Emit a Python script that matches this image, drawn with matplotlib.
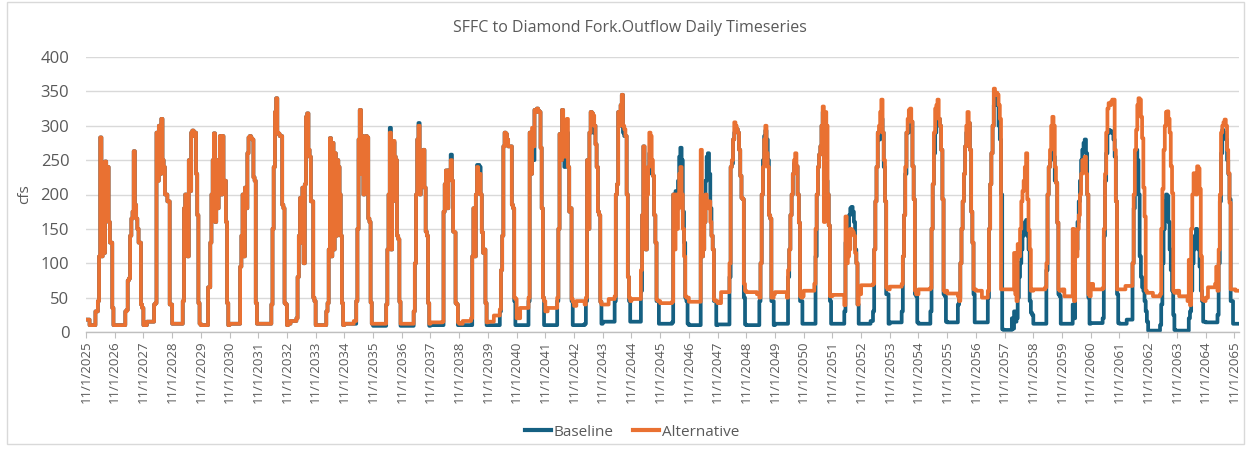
import matplotlib
matplotlib.use("Agg")
import matplotlib.pyplot as plt
import pandas as pd
from matplotlib.patches import FancyBboxPatch

TITLE = "SFFC to Diamond Fork.Outflow Daily Timeseries"
Y_LABEL = "cfs"
SERIES_NAMES = ["Baseline", "Alternative"]
WATER_YEARS = list(range(2026, 2066))   # water year N runs 11/1/(N-1) .. 10/31/N
Y_TICKS = [0, 50, 100, 150, 200, 250, 300, 350, 400]

# Half-monthly flow values (cfs) per water year: Nov1, Nov16, Dec1, ... Oct1, Oct16
ALT_WY2026 = [18, 18, 18, 10, 10, 10, 10, 10, 30, 30, 45, 110, 283, 110, 245, 115, 248, 170, 240, 160, 130, 130, 35, 10]
BASE_WY2026 = [18, 18, 18, 10, 10, 10, 10, 10, 30, 30, 45, 110, 283, 110, 245, 115, 248, 170, 240, 160, 130, 130, 35, 10]
ALT_WY2027 = [10, 10, 10, 10, 10, 10, 10, 10, 10, 30, 32, 75, 78, 140, 165, 175, 263, 185, 165, 150, 130, 130, 40, 35]
BASE_WY2027 = [10, 10, 10, 10, 10, 10, 10, 10, 10, 30, 32, 75, 78, 140, 165, 175, 263, 185, 165, 150, 130, 130, 40, 35]
ALT_WY2028 = [10, 10, 10, 15, 15, 15, 15, 15, 15, 40, 42, 290, 220, 300, 230, 310, 250, 240, 200, 200, 190, 190, 40, 40]
BASE_WY2028 = [10, 10, 10, 15, 15, 15, 15, 15, 15, 40, 42, 290, 220, 300, 230, 310, 250, 240, 200, 200, 190, 190, 40, 40]
ALT_WY2029 = [12, 12, 12, 12, 12, 12, 12, 12, 12, 45, 180, 200, 160, 110, 250, 205, 290, 293, 285, 290, 230, 170, 42, 12]
BASE_WY2029 = [12, 12, 12, 12, 12, 12, 12, 12, 12, 45, 180, 200, 160, 110, 250, 205, 290, 293, 285, 290, 230, 170, 42, 12]
ALT_WY2030 = [10, 10, 10, 10, 10, 10, 65, 65, 130, 200, 250, 289, 160, 250, 180, 240, 285, 200, 285, 220, 220, 160, 42, 10]
BASE_WY2030 = [10, 10, 10, 10, 10, 10, 65, 65, 130, 200, 250, 289, 160, 250, 180, 240, 285, 200, 285, 220, 220, 160, 42, 10]
ALT_WY2031 = [12, 12, 12, 12, 12, 12, 12, 12, 12, 95, 140, 200, 110, 210, 180, 260, 283, 285, 282, 280, 225, 220, 42, 12]
BASE_WY2031 = [12, 12, 12, 12, 12, 12, 12, 12, 12, 95, 140, 200, 110, 210, 180, 260, 283, 285, 282, 280, 225, 220, 42, 12]
ALT_WY2032 = [12, 12, 12, 12, 12, 12, 12, 12, 12, 12, 12, 40, 150, 240, 320, 340, 290, 288, 285, 285, 185, 180, 42, 40]
BASE_WY2032 = [12, 12, 12, 12, 12, 12, 12, 12, 12, 12, 12, 40, 150, 240, 320, 340, 290, 288, 285, 285, 185, 180, 42, 40]
ALT_WY2033 = [10, 12, 12, 16, 16, 16, 16, 16, 20, 80, 140, 195, 130, 210, 100, 215, 313, 318, 265, 255, 190, 190, 50, 45]
BASE_WY2033 = [10, 12, 12, 16, 16, 16, 16, 16, 20, 80, 140, 195, 130, 210, 100, 215, 313, 318, 265, 255, 190, 190, 50, 45]
ALT_WY2034 = [10, 10, 10, 10, 10, 10, 10, 10, 10, 30, 42, 120, 282, 110, 275, 120, 260, 140, 250, 240, 200, 140, 42, 10]
BASE_WY2034 = [10, 10, 10, 10, 10, 10, 10, 10, 10, 30, 42, 120, 282, 110, 275, 120, 260, 140, 250, 240, 200, 140, 42, 10]
ALT_WY2035 = [12, 12, 12, 12, 12, 12, 12, 12, 16, 16, 45, 150, 280, 323, 230, 285, 200, 283, 285, 283, 165, 160, 43, 12]
BASE_WY2035 = [12, 12, 12, 12, 12, 12, 12, 12, 12, 12, 45, 150, 280, 323, 230, 285, 200, 283, 285, 283, 165, 160, 43, 12]
ALT_WY2036 = [12, 12, 12, 12, 12, 12, 12, 12, 12, 12, 12, 40, 120, 200, 290, 120, 190, 278, 255, 250, 140, 135, 44, 12]
BASE_WY2036 = [9, 9, 9, 9, 9, 9, 9, 9, 9, 9, 9, 40, 120, 200, 297, 120, 190, 276, 255, 250, 140, 135, 44, 9]
ALT_WY2037 = [12, 12, 12, 12, 12, 12, 12, 12, 12, 12, 30, 100, 200, 280, 300, 200, 262, 240, 265, 210, 146, 140, 42, 12]
BASE_WY2037 = [9, 9, 9, 9, 9, 9, 9, 9, 9, 9, 30, 100, 200, 280, 304, 200, 262, 240, 265, 210, 146, 140, 42, 9]
ALT_WY2038 = [14, 14, 14, 14, 14, 14, 14, 14, 14, 14, 15, 175, 215, 235, 180, 235, 230, 250, 220, 146, 145, 42, 40, 14]
BASE_WY2038 = [10, 10, 10, 10, 10, 10, 10, 10, 10, 10, 10, 175, 215, 235, 180, 235, 230, 258, 220, 146, 145, 42, 40, 10]
ALT_WY2039 = [12, 12, 12, 16, 16, 16, 16, 16, 16, 16, 20, 110, 180, 110, 200, 240, 228, 230, 200, 145, 115, 120, 42, 14]
BASE_WY2039 = [10, 10, 10, 10, 10, 10, 10, 10, 10, 10, 10, 110, 180, 110, 200, 243, 243, 240, 200, 145, 115, 120, 42, 10]
ALT_WY2040 = [15, 15, 15, 15, 15, 24, 24, 24, 24, 24, 33, 90, 140, 270, 290, 288, 280, 270, 270, 270, 185, 180, 50, 48]
BASE_WY2040 = [10, 10, 10, 10, 10, 10, 10, 10, 10, 10, 30, 90, 140, 270, 290, 288, 280, 270, 270, 270, 185, 180, 45, 10]
ALT_WY2041 = [20, 20, 20, 35, 35, 35, 35, 35, 35, 35, 50, 290, 230, 297, 270, 323, 320, 325, 322, 320, 268, 180, 50, 45]
BASE_WY2041 = [10, 10, 10, 10, 10, 10, 10, 10, 10, 10, 45, 290, 230, 290, 250, 323, 320, 325, 322, 320, 268, 180, 50, 10]
ALT_WY2042 = [30, 30, 35, 35, 35, 35, 35, 35, 35, 35, 50, 150, 288, 250, 323, 301, 255, 297, 310, 240, 175, 180, 48, 44]
BASE_WY2042 = [10, 10, 10, 10, 10, 10, 10, 10, 10, 10, 45, 150, 288, 250, 323, 301, 240, 297, 290, 240, 175, 180, 45, 10]
ALT_WY2043 = [38, 38, 45, 45, 45, 45, 45, 45, 45, 40, 50, 250, 150, 290, 320, 318, 315, 300, 273, 240, 175, 170, 44, 40]
BASE_WY2043 = [10, 10, 10, 10, 10, 10, 10, 10, 10, 12, 45, 250, 150, 290, 320, 318, 290, 300, 273, 240, 175, 170, 44, 12]
ALT_WY2044 = [40, 40, 40, 40, 40, 48, 48, 48, 48, 48, 52, 200, 215, 320, 300, 330, 345, 300, 295, 285, 200, 80, 50, 45]
BASE_WY2044 = [15, 15, 15, 15, 15, 15, 15, 15, 15, 15, 45, 200, 215, 320, 300, 330, 345, 290, 285, 285, 200, 80, 45, 15]
ALT_WY2045 = [48, 48, 48, 48, 48, 48, 48, 48, 90, 170, 270, 180, 120, 200, 240, 290, 285, 250, 227, 170, 130, 47, 45, 45]
BASE_WY2045 = [15, 15, 15, 15, 15, 15, 15, 15, 60, 170, 270, 180, 120, 230, 240, 260, 250, 230, 227, 170, 130, 45, 45, 12]
ALT_WY2046 = [42, 42, 42, 42, 42, 42, 42, 42, 42, 42, 44, 200, 120, 200, 150, 180, 230, 240, 200, 150, 110, 52, 50, 50]
BASE_WY2046 = [12, 12, 12, 12, 12, 12, 12, 12, 12, 12, 14, 200, 200, 205, 200, 220, 255, 268, 250, 175, 130, 50, 45, 12]
ALT_WY2047 = [44, 44, 44, 44, 44, 44, 44, 44, 44, 44, 265, 110, 120, 160, 200, 190, 180, 190, 160, 140, 120, 47, 45, 45]
BASE_WY2047 = [10, 10, 10, 10, 10, 10, 10, 10, 10, 10, 200, 110, 120, 160, 220, 255, 260, 230, 180, 140, 120, 45, 45, 10]
ALT_WY2048 = [42, 42, 42, 58, 58, 58, 58, 58, 58, 58, 100, 240, 250, 280, 305, 300, 295, 290, 265, 227, 195, 193, 70, 60]
BASE_WY2048 = [11, 11, 11, 11, 11, 11, 11, 11, 11, 11, 80, 240, 245, 280, 290, 295, 295, 290, 265, 227, 195, 193, 50, 11]
ALT_WY2049 = [58, 58, 58, 58, 58, 58, 58, 58, 58, 55, 55, 50, 100, 200, 240, 280, 300, 260, 240, 170, 165, 50, 50, 55]
BASE_WY2049 = [10, 10, 10, 10, 10, 10, 10, 10, 10, 10, 10, 45, 100, 200, 250, 285, 293, 280, 250, 170, 165, 45, 45, 10]
ALT_WY2050 = [58, 58, 58, 58, 58, 58, 58, 58, 58, 58, 50, 90, 120, 170, 200, 230, 250, 260, 241, 200, 159, 52, 50, 52]
BASE_WY2050 = [12, 12, 12, 12, 12, 12, 12, 12, 12, 12, 12, 80, 120, 170, 200, 230, 245, 240, 241, 200, 159, 45, 45, 12]
ALT_WY2051 = [60, 60, 60, 60, 60, 60, 60, 60, 60, 70, 150, 200, 240, 258, 270, 300, 328, 160, 320, 300, 200, 155, 52, 52]
BASE_WY2051 = [12, 12, 12, 12, 12, 12, 12, 12, 12, 12, 110, 200, 240, 258, 270, 300, 320, 220, 250, 220, 200, 155, 45, 12]
ALT_WY2052 = [54, 54, 54, 54, 54, 54, 54, 54, 54, 54, 39, 168, 100, 110, 120, 150, 148, 145, 140, 115, 100, 40, 55, 55]
BASE_WY2052 = [12, 12, 12, 12, 12, 12, 12, 12, 12, 12, 30, 130, 120, 140, 170, 180, 182, 175, 160, 120, 100, 40, 12, 12]
ALT_WY2053 = [68, 68, 68, 68, 68, 68, 68, 68, 68, 68, 70, 120, 190, 240, 290, 300, 320, 338, 290, 250, 190, 65, 62, 62]
BASE_WY2053 = [12, 12, 12, 12, 12, 12, 12, 12, 16, 16, 30, 120, 190, 240, 290, 280, 295, 310, 290, 240, 190, 55, 55, 12]
ALT_WY2054 = [66, 66, 66, 66, 66, 66, 66, 66, 66, 66, 70, 110, 170, 240, 290, 310, 323, 325, 306, 241, 193, 60, 55, 55]
BASE_WY2054 = [14, 14, 14, 14, 14, 14, 14, 14, 14, 14, 30, 110, 170, 230, 290, 290, 300, 300, 306, 241, 193, 55, 52, 14]
ALT_WY2055 = [62, 62, 62, 62, 62, 62, 62, 62, 62, 62, 64, 150, 215, 290, 325, 330, 338, 310, 300, 265, 193, 60, 58, 60]
BASE_WY2055 = [12, 12, 12, 12, 12, 12, 12, 12, 12, 12, 30, 150, 215, 260, 290, 300, 310, 310, 300, 265, 193, 55, 52, 15]
ALT_WY2056 = [56, 56, 56, 56, 56, 56, 56, 56, 56, 52, 45, 100, 150, 190, 230, 270, 300, 320, 304, 265, 175, 130, 62, 62]
BASE_WY2056 = [14, 14, 14, 14, 14, 14, 14, 14, 14, 40, 50, 100, 150, 190, 230, 270, 290, 300, 304, 265, 175, 130, 55, 14]
ALT_WY2057 = [60, 60, 60, 60, 60, 50, 50, 50, 50, 50, 60, 150, 215, 260, 300, 354, 345, 348, 345, 330, 310, 62, 62, 62]
BASE_WY2057 = [14, 14, 14, 14, 14, 14, 14, 14, 14, 14, 50, 150, 215, 260, 300, 330, 340, 340, 330, 300, 280, 200, 4, 3]
ALT_WY2058 = [62, 62, 62, 62, 62, 62, 62, 62, 115, 55, 45, 128, 110, 150, 190, 205, 220, 240, 260, 193, 148, 120, 60, 60]
BASE_WY2058 = [3, 3, 3, 3, 3, 3, 20, 5, 30, 15, 20, 50, 80, 100, 120, 140, 150, 160, 163, 140, 120, 45, 28, 25]
ALT_WY2059 = [62, 62, 62, 62, 62, 62, 62, 62, 62, 62, 65, 100, 200, 240, 265, 300, 313, 300, 240, 217, 159, 62, 60, 60]
BASE_WY2059 = [12, 12, 12, 12, 12, 12, 12, 12, 12, 12, 12, 90, 200, 240, 250, 265, 270, 255, 220, 217, 159, 55, 52, 12]
ALT_WY2060 = [62, 62, 52, 52, 52, 52, 52, 52, 52, 150, 45, 145, 110, 150, 170, 200, 230, 250, 240, 255, 230, 200, 55, 52]
BASE_WY2060 = [12, 12, 12, 12, 12, 12, 12, 12, 12, 40, 20, 110, 120, 160, 190, 220, 250, 265, 275, 280, 260, 200, 50, 12]
ALT_WY2061 = [70, 70, 62, 62, 62, 62, 62, 62, 62, 62, 64, 150, 230, 290, 325, 333, 330, 335, 338, 338, 265, 190, 62, 62]
BASE_WY2061 = [13, 13, 13, 13, 13, 13, 13, 13, 13, 13, 20, 140, 220, 260, 290, 294, 290, 292, 290, 280, 255, 190, 55, 13]
ALT_WY2062 = [62, 62, 62, 62, 62, 67, 67, 67, 67, 67, 67, 100, 200, 265, 294, 330, 340, 338, 313, 282, 210, 168, 60, 57]
BASE_WY2062 = [12, 12, 12, 12, 12, 12, 18, 18, 18, 18, 18, 100, 180, 240, 265, 250, 200, 110, 80, 65, 60, 45, 30, 15]
ALT_WY2063 = [57, 57, 57, 57, 52, 52, 52, 52, 52, 52, 55, 150, 208, 265, 300, 320, 321, 310, 290, 241, 202, 60, 57, 57]
BASE_WY2063 = [2, 2, 2, 2, 2, 2, 2, 2, 2, 2, 10, 40, 100, 150, 190, 200, 198, 160, 120, 90, 60, 25, 3, 2]
ALT_WY2064 = [60, 60, 52, 52, 52, 52, 52, 52, 52, 45, 105, 39, 150, 200, 231, 228, 200, 241, 238, 208, 110, 47, 47, 45]
BASE_WY2064 = [2, 2, 2, 2, 2, 2, 2, 2, 2, 2, 20, 30, 60, 100, 120, 140, 150, 145, 120, 95, 60, 45, 15, 15]
ALT_WY2065 = [50, 50, 65, 65, 65, 65, 65, 65, 70, 95, 60, 120, 200, 290, 300, 305, 309, 300, 265, 231, 188, 62, 62, 62]
BASE_WY2065 = [14, 14, 14, 14, 14, 14, 14, 14, 14, 14, 25, 100, 190, 260, 294, 290, 285, 280, 250, 230, 193, 45, 45, 12]
# partial water year 2066 (Nov-Dec 2065)
ALT_WY2066 = [62, 60, 60, 60]
BASE_WY2066 = [12, 12, 12, 12]


def half_month_dates(wy, n):
    out = []
    for k in range(n):
        m = 11 + k // 2
        y = wy - 1
        if m > 12:
            m -= 12
            y = wy
        out.append(pd.Timestamp(year=y, month=m, day=1 if k % 2 == 0 else 16))
    return out


dates, alt, base = [], [], []
for wy in WATER_YEARS + [2066]:
    a = globals()[f"ALT_WY{wy}"]
    b = globals()[f"BASE_WY{wy}"]
    dates += half_month_dates(wy, len(a))
    alt += a
    base += b
end_date = pd.Timestamp("2065-12-31")
dates.append(end_date)
alt.append(alt[-1])
base.append(base[-1])

plt.rcParams["font.family"] = ["Open Sans", "DejaVu Sans"]
TXT = "#595959"
BLUE = "#156082"
ORANGE = "#E97132"

fig = plt.figure(figsize=(12.51, 4.51), dpi=100)
W, H = 1251, 451
ax = fig.add_axes([86 / W, 1 - 332 / H, (1239 - 86) / W, (332 - 57) / H])

ax.plot(dates, base, drawstyle="steps-post", color=BLUE, lw=2.7, label=SERIES_NAMES[0])
ax.plot(dates, alt, drawstyle="steps-post", color=ORANGE, lw=2.7, label=SERIES_NAMES[1])

ax.set_ylim(0, 400)
ax.set_yticks(Y_TICKS)
ax.set_xlim(pd.Timestamp("2025-11-01"), end_date)
tick_dates = [pd.Timestamp(year=y - 1, month=11, day=1) for y in WATER_YEARS + [2066]]
ax.set_xticks(tick_dates)
ax.set_xticklabels([f"11/1/{d.year}" for d in tick_dates], rotation=90, fontsize=9.5, color=TXT)
ax.tick_params(axis="y", length=0, labelsize=12, labelcolor=TXT, pad=12)
ax.tick_params(axis="x", length=4, color="#BFBFBF", pad=2)
ax.grid(axis="y", color="#D9D9D9", lw=1)
ax.set_axisbelow(True)
for s in ["top", "right", "left"]:
    ax.spines[s].set_visible(False)
ax.spines["bottom"].set_color("#BFBFBF")
ax.spines["bottom"].set_linewidth(1)
ax.set_ylabel(Y_LABEL, color=TXT, fontsize=11, labelpad=6)

fig.text(630 / W, 1 - 28 / H, TITLE, ha="center", va="center", fontsize=11.5, color=TXT)

leg = fig.legend(loc="center", bbox_to_anchor=(632 / W, 1 - 432 / H), ncol=2, frameon=False,
                 fontsize=11, handlelength=1.7, columnspacing=1.3, handletextpad=0.15)
for t in leg.get_texts():
    t.set_color(TXT)
for h in leg.legend_handles:
    h.set_linewidth(3)

border = FancyBboxPatch((7 / W, 7 / H), (1244 - 7) / W, (449 - 7) / H, boxstyle="square,pad=0",
                        transform=fig.transFigure, fill=False, edgecolor="#D9D9D9", lw=1)
fig.patches.append(border)

fig.savefig("out.png", dpi=100, facecolor="white")
